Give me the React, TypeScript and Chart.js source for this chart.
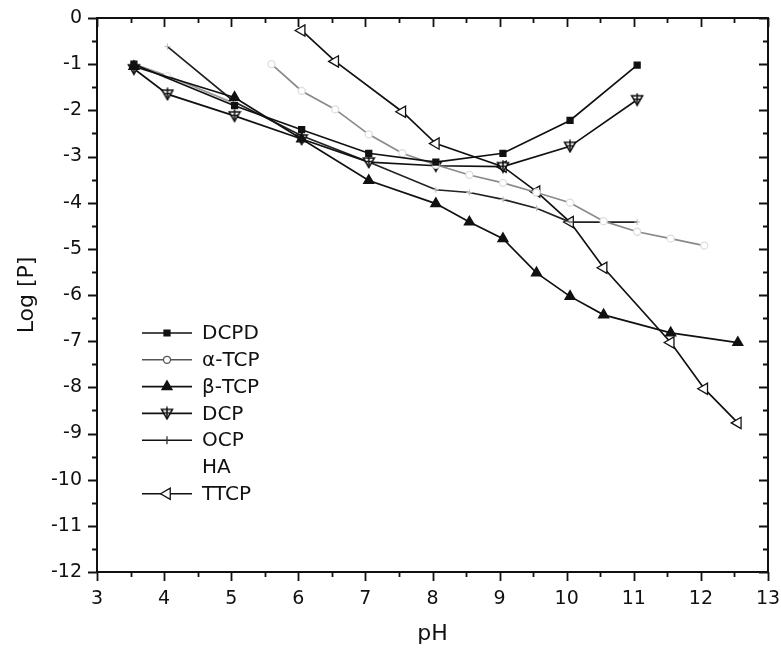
import React, { useEffect, useRef } from "react";
import { Chart, registerables } from "chart.js";
import { drawPoint } from "chart.js/helpers";

Chart.register(...registerables);

// ---- data (pH, Log[P]) ----
const DCPD_X = [3.55, 5.05, 6.05, 7.05, 8.05, 9.05, 10.05, 11.05];
const DCPD_Y = [-1.0, -1.9, -2.42, -2.93, -3.12, -2.93, -2.22, -1.02];

const ATCP_X = [5.6, 6.05, 6.55, 7.05, 7.55, 8.05, 8.55, 9.05, 9.55, 10.05, 10.55, 11.05, 11.55, 12.05];
const ATCP_Y = [-1.0, -1.58, -1.98, -2.52, -2.93, -3.18, -3.4, -3.57, -3.78, -4.0, -4.4, -4.63, -4.78, -4.93];

const BTCP_X = [3.55, 5.05, 6.05, 7.05, 8.05, 8.55, 9.05, 9.55, 10.05, 10.55, 11.55, 12.55];
const BTCP_Y = [-1.05, -1.72, -2.62, -3.52, -4.02, -4.42, -4.78, -5.52, -6.03, -6.43, -6.82, -7.03];

const DCP_X = [3.55, 4.05, 5.05, 6.05, 7.05, 8.05, 9.05, 10.05, 11.05];
const DCP_Y = [-1.1, -1.65, -2.12, -2.62, -3.12, -3.2, -3.22, -2.78, -1.77];

const OCP_X = [4.05, 5.05, 6.05, 7.05, 8.05, 8.55, 9.05, 9.55, 10.05, 11.05];
const OCP_Y = [-0.62, -1.82, -2.55, -3.12, -3.72, -3.78, -3.93, -4.12, -4.42, -4.42];

const HA_X = [3.55, 4.05, 5.05];
const HA_Y = [-1.0, -1.25, -1.85];

const TTCP_X = [6.05, 6.55, 7.55, 8.05, 9.05, 9.55, 10.05, 10.55, 11.55, 12.05, 12.55];
const TTCP_Y = [-0.27, -0.94, -2.03, -2.72, -3.22, -3.76, -4.42, -5.41, -7.03, -8.03, -8.77];

const X_MIN = 3;
const X_MAX = 13;
const Y_MIN = -12;
const Y_MAX = 0;

const FONT = "'DejaVu Sans', 'Liberation Sans', Arial, sans-serif";

function pts(xs: number[], ys: number[]) {
  return xs.map((x, i) => ({ x, y: ys[i] }));
}

function makeDcpMarker(): HTMLCanvasElement {
  const c = document.createElement("canvas");
  c.width = 14;
  c.height = 14;
  const g = c.getContext("2d")!;
  g.lineWidth = 1.5;
  g.strokeStyle = "#111";
  g.fillStyle = "#fff";
  g.beginPath();
  g.moveTo(1.5, 3);
  g.lineTo(12.5, 3);
  g.lineTo(7, 12.5);
  g.closePath();
  g.fill();
  g.stroke();
  g.beginPath();
  g.moveTo(7, 0.5);
  g.lineTo(7, 12.5);
  g.moveTo(3.5, 6.5);
  g.lineTo(10.5, 6.5);
  g.stroke();
  return c;
}

export default function App() {
  const ref = useRef<HTMLCanvasElement | null>(null);

  useEffect(() => {
    document.body.style.margin = "0";
    const canvas = ref.current!;
    const dcpMarker = makeDcpMarker();

    const base = {
      showLine: true,
      borderWidth: 1.7,
      pointBorderWidth: 1.3,
      tension: 0,
    };

    const datasets: any[] = [
      {
        ...base,
        label: "DCPD",
        data: pts(DCPD_X, DCPD_Y),
        borderColor: "#111",
        backgroundColor: "#111",
        pointBackgroundColor: "#111",
        pointStyle: "rect",
        pointRadius: 4.2,
      },
      {
        ...base,
        label: "α-TCP",
        data: pts(ATCP_X, ATCP_Y),
        borderColor: "#8a8a8a",
        backgroundColor: "#fff",
        pointBackgroundColor: "#fff",
        pointBorderColor: "#dedede",
        pointStyle: "circle",
        pointRadius: 3.5,
        legendLine: "#555",
        legendPoint: "#555",
      },
      {
        ...base,
        label: "β-TCP",
        data: pts(BTCP_X, BTCP_Y),
        borderColor: "#111",
        backgroundColor: "#111",
        pointBackgroundColor: "#111",
        pointStyle: "triangle",
        pointRadius: 5.8,
      },
      {
        ...base,
        label: "DCP",
        data: pts(DCP_X, DCP_Y),
        borderColor: "#111",
        backgroundColor: "#fff",
        pointStyle: dcpMarker,
        pointRadius: 6,
      },
      {
        ...base,
        label: "OCP",
        data: pts(OCP_X, OCP_Y),
        borderColor: "#222",
        backgroundColor: "#222",
        pointBorderColor: "#bbb",
        pointStyle: "cross",
        pointRadius: 3,
        pointBorderWidth: 1,
        legendPointStyle: "line",
        legendRotation: 90,
        legendPoint: "#333",
      },
      {
        ...base,
        label: "HA",
        data: pts(HA_X, HA_Y),
        borderColor: "#9a9a9a",
        backgroundColor: "#fff",
        pointBorderColor: "#e6e6e6",
        pointStyle: "circle",
        pointRadius: 3,
        hideLegendLine: true,
      },
      {
        ...base,
        label: "TTCP",
        data: pts(TTCP_X, TTCP_Y),
        borderColor: "#111",
        backgroundColor: "#fff",
        pointBackgroundColor: "#fff",
        pointStyle: "triangle",
        pointRotation: -90,
        pointRadius: 6.5,
      },
    ];

    const frame = {
      id: "frame",
      afterDraw(chart: any) {
        const { ctx, chartArea, scales } = chart;
        const { left, right, top, bottom } = chartArea;
        const xs = scales.x;
        const ys = scales.y;
        ctx.save();
        ctx.strokeStyle = "#111";
        ctx.lineWidth = 2;
        ctx.strokeRect(left, top, right - left, bottom - top);
        ctx.lineWidth = 1.8;
        ctx.beginPath();
        for (let v = X_MIN; v <= X_MAX + 1e-9; v += 0.5) {
          const major = Math.abs(v - Math.round(v)) < 1e-9;
          const px = Math.round(xs.getPixelForValue(v)) + 0.5;
          const len = major ? 9 : 5;
          ctx.moveTo(px, bottom);
          ctx.lineTo(px, bottom + len);
          ctx.moveTo(px, top);
          ctx.lineTo(px, top + len);
        }
        for (let v = Y_MIN; v <= Y_MAX + 1e-9; v += 0.5) {
          const major = Math.abs(v - Math.round(v)) < 1e-9;
          const py = Math.round(ys.getPixelForValue(v)) + 0.5;
          const len = major ? 9 : 5;
          ctx.moveTo(left, py);
          ctx.lineTo(left - len, py);
          ctx.moveTo(right, py);
          ctx.lineTo(right - len, py);
        }
        ctx.stroke();
        ctx.restore();
      },
    };

    const legend = {
      id: "customLegend",
      afterDatasetsDraw(chart: any) {
        const { ctx } = chart;
        const x0 = 142;
        const x1 = 192;
        const xm = 167;
        const y0 = 333;
        const step = 26.8;
        ctx.save();
        chart.data.datasets.forEach((ds: any, i: number) => {
          const y = y0 + i * step;
          if (!ds.hideLegendLine) {
            ctx.strokeStyle = ds.legendLine || "#111";
            ctx.lineWidth = 1.6;
            ctx.beginPath();
            ctx.moveTo(x0, y);
            ctx.lineTo(x1, y);
            ctx.stroke();
            const style = ds.legendPointStyle || ds.pointStyle;
            ctx.fillStyle = ds.pointBackgroundColor || ds.backgroundColor;
            ctx.strokeStyle = ds.legendPoint || "#111";
            ctx.lineWidth = 1.3;
            drawPoint(
              ctx,
              {
                pointStyle: style,
                rotation: ds.legendRotation ?? ds.pointRotation ?? 0,
                radius: style === "line" ? 4 : ds.pointRadius,
                borderWidth: 1.3,
              },
              xm,
              y
            );
          }
          ctx.fillStyle = "#111";
          ctx.font = `20px ${FONT}`;
          ctx.textBaseline = "middle";
          ctx.textAlign = "left";
          ctx.fillText(ds.label, 202, y + 1);
        });
        ctx.restore();
      },
    };

    const chart = new Chart(canvas, {
      type: "scatter",
      data: { datasets },
      options: {
        animation: false,
        responsive: false,
        layout: { padding: { top: 18, right: 13, bottom: 2, left: 10 } },
        plugins: {
          legend: { display: false },
          tooltip: { enabled: false },
        },
        elements: {
          point: { hoverRadius: 0 },
        },
        scales: {
          x: {
            type: "linear",
            min: X_MIN,
            max: X_MAX,
            grid: { display: false, drawTicks: false },
            border: { display: false },
            ticks: {
              stepSize: 1,
              padding: 16,
              color: "#111",
              font: { family: FONT, size: 19 },
            },
            title: {
              display: true,
              text: "pH",
              color: "#111",
              font: { family: FONT, size: 22 },
            },
            afterFit(scale: any) {
              scale.height = 79;
              scale.paddingLeft = 0;
              scale.paddingRight = 0;
            },
          },
          y: {
            type: "linear",
            min: Y_MIN,
            max: Y_MAX,
            grid: { display: false, drawTicks: false },
            border: { display: false },
            ticks: {
              stepSize: 1,
              padding: 15,
              color: "#111",
              font: { family: FONT, size: 19 },
            },
            title: {
              display: true,
              text: "Log [P]",
              color: "#111",
              font: { family: FONT, size: 22 },
            },
            afterFit(scale: any) {
              scale.width = 87;
              scale.paddingTop = 0;
              scale.paddingBottom = 0;
            },
          },
        },
      },
      plugins: [frame, legend],
    } as any);

    return () => chart.destroy();
  }, []);

  return (
    <div style={{ width: 781, height: 653 }}>
      <canvas ref={ref} width={781} height={653} style={{ display: "block" }} />
    </div>
  );
}
